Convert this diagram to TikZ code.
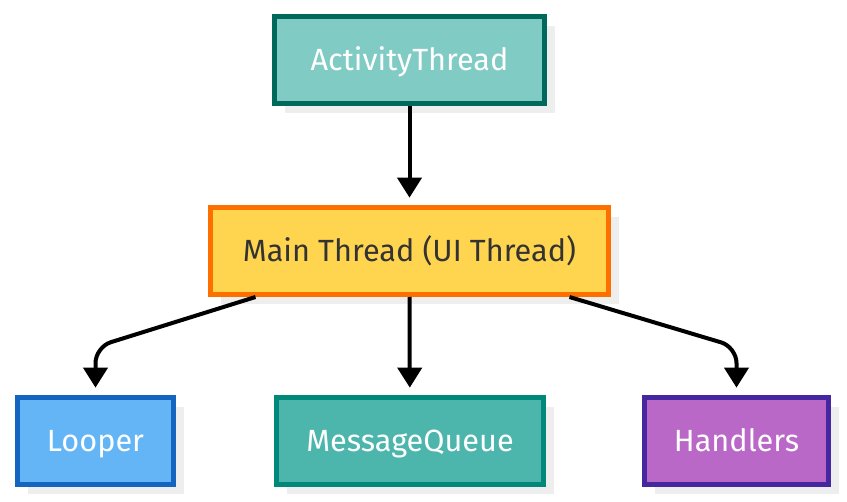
\documentclass[tikz,border=0pt]{standalone}
\usepackage{fontspec}
\setmainfont{Fira Sans}
\usetikzlibrary{arrows.meta}
\usetikzlibrary{shadows}
\definecolor{shadowgray}{HTML}{EEEEEE}
\definecolor{actfill}{HTML}{80CBC4}
\definecolor{actdraw}{HTML}{00695C}
\definecolor{mainfill}{HTML}{FFD54F}
\definecolor{maindraw}{HTML}{FF6F00}
\definecolor{loopfill}{HTML}{64B5F6}
\definecolor{loopdraw}{HTML}{1565C0}
\definecolor{queuefill}{HTML}{4DB6AC}
\definecolor{queuedraw}{HTML}{00897B}
\definecolor{handfill}{HTML}{BA68C8}
\definecolor{handdraw}{HTML}{4527A0}
\tikzset{
    threadbox/.style={draw, line width=3.75pt, minimum height=65.25pt, text=white,
        font=\fontsize{23}{27}\selectfont, text height=15.8pt, text depth=0pt,
        drop shadow={shadow xshift=7.5pt, shadow yshift=-7.5pt, fill=shadowgray, opacity=1}},
    link/.style={line width=3pt, -{Triangle[length=15pt,width=18pt]}, shorten >=5.5pt, rounded corners=12pt}
}

\begin{document}
\begin{tikzpicture}[x=0.75pt, y=-0.75pt]
    \useasboundingbox (0,0) rectangle (847,502);
    % top
    \node[threadbox, fill=actfill, draw=actdraw, minimum width=202.5pt] (act) at (409.5, 60) {ActivityThread};
    \node[threadbox, fill=mainfill, draw=maindraw, text=black!80, minimum width=298.5pt] (main) at (409.5, 251) {Main Thread (UI Thread)};
    % bottom row
    \node[threadbox, fill=loopfill, draw=loopdraw, minimum width=117pt] (looper) at (95.5, 441) {Looper};
    \node[threadbox, fill=queuefill, draw=queuedraw, minimum width=200.25pt] (queue) at (410, 441) {MessageQueue};
    \node[threadbox, fill=handfill, draw=handdraw, minimum width=138pt] (handlers) at (736.5, 441) {Handlers};
    % arrows
    \coordinate (loopturn) at (95.5, 347);
    \coordinate (handturn) at (736.5, 347);
    \draw[link] (act) -- (main);
    \draw[link] ([shift={(-154,0)}]main.south) -- (loopturn) -- (looper);
    \draw[link] (main.south) -- (queue);
    \draw[link] ([shift={(160,0)}]main.south) -- (handturn) -- (handlers);
\end{tikzpicture}
\end{document}
